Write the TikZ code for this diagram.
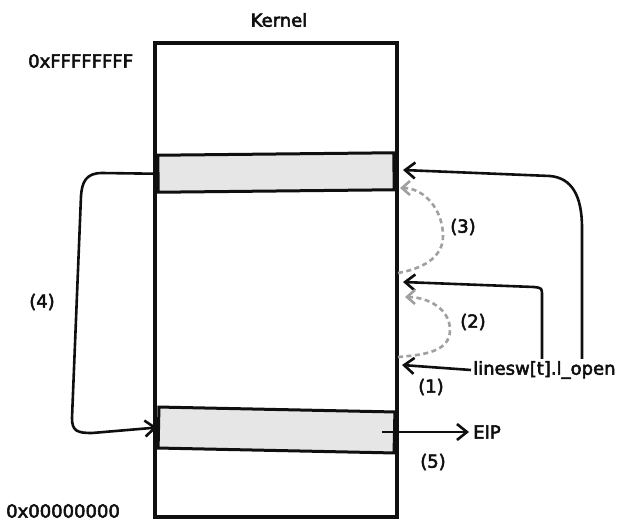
\documentclass[tikz,border=0pt]{standalone}
\usepackage{fontspec}
\setmainfont{DejaVu Sans}
\newfontfamily\handfont{DejaVu Sans}[FakeBold=3]
\usetikzlibrary{arrows.meta,positioning,calc}
\definecolor{inkclr}{RGB}{15,15,15}
\definecolor{bandfill}{RGB}{229,230,229}
\definecolor{dashclr}{RGB}{160,160,160}
\tikzset{
  %% kernel memory column
  memblk/.style={rectangle,draw=inkclr,line width=3.2pt,fill=white,
    minimum width=242pt,minimum height=474pt,inner sep=0pt},
  %% shaded region inside the column
  bandblk/.style={rectangle,draw=inkclr,line width=3pt,fill=bandfill,
    minimum width=236pt,inner sep=0pt},
  %% text
  lbl/.style={font=\handfont\fontsize{18}{21}\selectfont,text=inkclr,inner sep=2pt},
  %% arrows
  arr/.style={-{Straight Barb[length=10pt,width=16pt,line width=2.6pt]},
    line width=2.6pt,color=inkclr},
  garr/.style={-{Straight Barb[length=8pt,width=14pt,line width=2.6pt]},
    line width=2.6pt,color=dashclr,dash pattern=on 5pt off 3.5pt},
}
\begin{document}
\begin{tikzpicture}[x=1pt,y=-1pt]
  \useasboundingbox (0,0) rectangle (618,522);
  %% memory column and regions
  \node[memblk] (mem) at (276,280) {};
  \node[bandblk,minimum height=37pt,rotate=0.6] (upband) at (276,172.5) {};
  \node[bandblk,minimum height=41pt,rotate=-1.2] (lowband) at (276.5,430) {};
  %% labels
  \node[lbl] (kernel) at (279,20) {Kernel};
  \node[lbl,anchor=west] (hiaddr) at (26,61) {0xFFFFFFFF};
  \node[lbl,anchor=west] (loaddr) at (4,511) {0x00000000};
  \node[lbl,anchor=west] (lopen) at (471,370) {linesw[t].l\_open};
  \node[lbl] (eip) at (487,432) {EIP};
  \node[lbl] (s1) at (431,387) {(1)};
  \node[lbl] (s2) at (473,322) {(2)};
  \node[lbl] (s3) at (463,227) {(3)};
  \node[lbl] (s4) at (42,302) {(4)};
  \node[lbl] (s5) at (433,462) {(5)};
  %% arrow ends on the column
  \coordinate (tipA) at (402,365);
  \coordinate (tipB) at (403,282);
  \coordinate (tipC) at (403,170);
  \coordinate (dashB) at (398,357);
  \coordinate (dashC) at (398,273);
  \coordinate (eipsrc) at (382,432);
  %% calls from lopen
  \draw[arr] (lopen.west) -- (tipA);
  \draw[arr] (lopen.north -| 542,0) -- (542,296)
    .. controls (542,288) .. (534,287) -- (tipB);
  \draw[arr] (lopen.north -| 582,0) -- (582,228)
    .. controls (582,196) and (572,178) .. (550,176) -- (tipC);
  %% dashed returns
  \draw[garr] (dashB) to[out=5,in=-90] (450,330) to[out=90,in=0] (405,297);
  \draw[garr] (dashC) to[out=10,in=-90] (443,236) to[out=90,in=0] (400,188);
  %% jump down
  \draw[arr] (upband.west) -- (102,173)
    .. controls (86,173) and (82,182) .. (81,196) -- (72,418)
    .. controls (72,431) and (77,433) .. (92,433) -- (lowband.west);
  \draw[arr,shorten >=2pt] (eipsrc) -- (eip.west);
\end{tikzpicture}
\end{document}
